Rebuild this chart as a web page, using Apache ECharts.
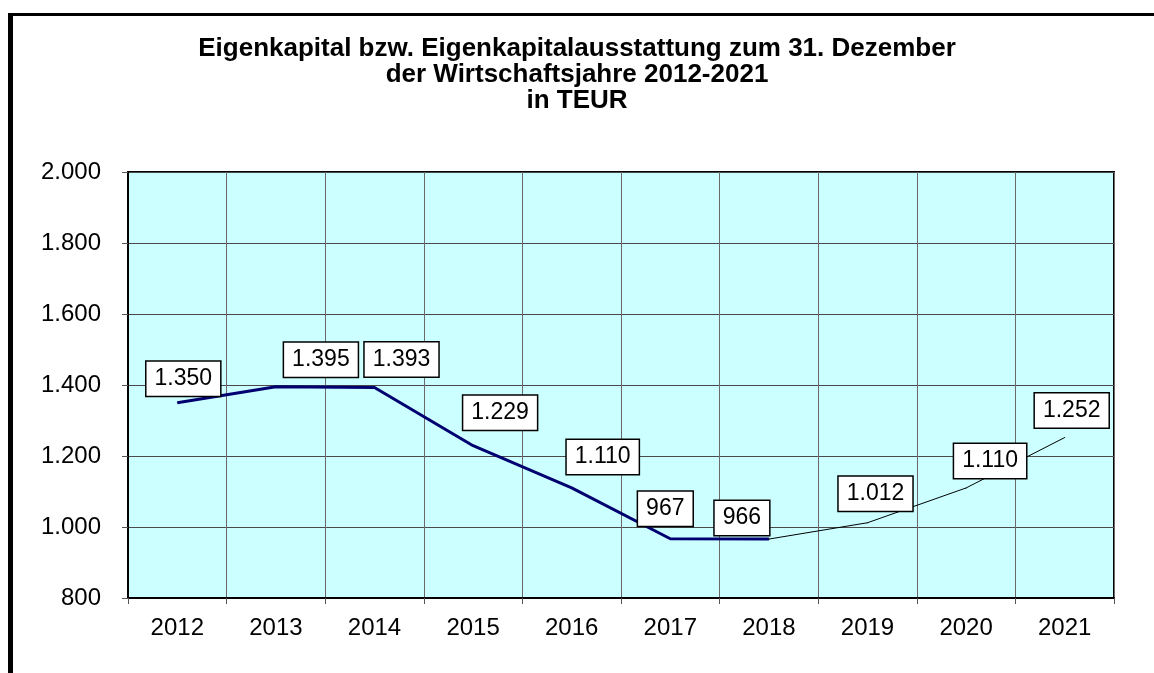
<!DOCTYPE html>
<html>
<head>
<meta charset="utf-8">
<script src="https://cdn.jsdelivr.net/npm/echarts@6/dist/echarts.min.js"></script>
<style>
html,body{margin:0;padding:0;background:#fff;}
#chart{width:1154px;height:673px;}
</style>
</head>
<body>
<div id="chart"></div>
<script>
// ---- data ----
const years = ['2012','2013','2014','2015','2016','2017','2018','2019','2020','2021'];
const equity = [1350, 1395, 1393, 1229, 1110, 967, 966, 1012, 1110, 1252];
const boldUntil = 6; // index of 2018: thick segment 2012-2018, thin afterwards
const titleLines = ['Eigenkapital bzw. Eigenkapitalausstattung zum 31. Dezember', 'der Wirtschaftsjahre 2012-2021', 'in TEUR'];

// label placement (layout only)
const labelOffsets = [[6,-24],[45,-27],[27,-28],[27,-33],[31,-31],[-5,-30],[-27,-21],[8,-29],[24,-27],[7,-27]];

const FONT = "'Liberation Sans', Arial, sans-serif";
const fmt = v => String(v).replace(/\B(?=(\d{3})+(?!\d))/g, '.');

const labelStyle = {
  show: true, position: 'inside', color: '#000', fontSize: 23, fontFamily: FONT,
  backgroundColor: '#fff', borderColor: '#000', borderWidth: 1.5,
  padding: [4, 8, 3, 8], lineHeight: 27,
  formatter: p => fmt(p.value)
};

function makeData(fromIdx, toIdx, labelFrom, labelTo) {
  return equity.map((v, i) => {
    if (i < fromIdx || i > toIdx) return null;
    const showLabel = i >= labelFrom && i <= labelTo;
    return { value: v, label: showLabel ? { show: true, offset: labelOffsets[i] } : { show: false } };
  });
}

const chart = echarts.init(document.getElementById('chart'), null, { renderer: 'canvas' });
chart.setOption({
  backgroundColor: '#fff',
  animation: false,
  textStyle: { fontFamily: FONT },
  title: {
    text: titleLines.join('\n'), left: 'center', top: 31,
    textStyle: { fontSize: 26, fontWeight: 'bold', color: '#000', fontFamily: FONT, lineHeight: 26 }
  },
  graphic: [
    { type: 'rect', shape: { x: 8, y: 13, width: 5, height: 660 }, style: { fill: '#000' } },
    { type: 'rect', shape: { x: 8, y: 13, width: 1146, height: 3 }, style: { fill: '#000' } }
  ],
  grid: {
    left: 128, top: 172, right: 40, bottom: 75, show: true,
    backgroundColor: '#CCFFFF', borderColor: '#000', borderWidth: 2
  },
  xAxis: {
    type: 'category', data: years, boundaryGap: true,
    axisLine: { lineStyle: { color: '#000', width: 2 } },
    axisTick: { show: true, length: 6, lineStyle: { color: '#555' } },
    axisLabel: { color: '#000', fontSize: 24, fontFamily: FONT, margin: 18 },
    splitLine: { show: true, lineStyle: { color: '#6a6a6a', width: 1 } }
  },
  yAxis: {
    type: 'value', min: 800, max: 2000, interval: 200,
    axisLine: { show: true, lineStyle: { color: '#000', width: 2 } },
    axisTick: { show: true, length: 6, lineStyle: { color: '#555' } },
    axisLabel: { color: '#000', fontSize: 24, fontFamily: FONT, margin: 27, formatter: v => fmt(v) },
    splitLine: { show: true, lineStyle: { color: '#4a4a4a', width: 1 } }
  },
  series: [
    {
      type: 'line', data: makeData(0, boldUntil, 0, boldUntil - 1),
      symbol: 'circle', symbolSize: 1, showSymbol: true,
      lineStyle: { color: '#000070', width: 3 }, itemStyle: { color: '#000070' },
      label: labelStyle, z: 3
    },
    {
      type: 'line', data: makeData(boldUntil, equity.length - 1, boldUntil, equity.length - 1),
      symbol: 'circle', symbolSize: 1, showSymbol: true,
      lineStyle: { color: '#000', width: 1 }, itemStyle: { color: '#000' },
      label: labelStyle, z: 3
    }
  ]
});
</script>
</body>
</html>
